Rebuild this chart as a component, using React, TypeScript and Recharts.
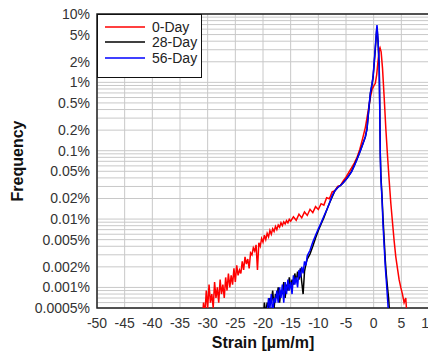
import React from 'react'
import { LineChart, Line, XAxis, YAxis, CartesianGrid, ReferenceArea } from 'recharts'

// strain [µm/m] and frequency [%]
const strain0 = [
  -31, -30.75, -30.5, -30.25, -30, -29.75, -29.5, -29.25, -29, -28.75, -28.5, -28.25, -28, -27.75, -27.5, -27.25,
  -27, -26.75, -26.5, -26.25, -26, -25.75, -25.5, -25.25, -25, -24.75, -24.5, -24.25, -24, -23.75, -23.5, -23.25,
  -23, -22.75, -22.5, -22.25, -22, -21.75, -21.5, -21.25, -21, -20.75, -20.5, -20.25, -20, -19.75, -19.5, -19.25,
  -19, -18.75, -18.5, -18.25, -18, -17.75, -17.5, -17.25, -17, -16.75, -16.5, -16.25, -16, -15.75, -15.5, -15.25,
  -15, -14.5, -14, -13.5, -13, -12.5, -12, -11.5, -11, -10.5, -10, -9.5, -9, -8.5, -8, -7.5, -7, -6.5, -6, -5.5,
  -5, -4.5, -4, -3.5, -3, -2.5, -2, -1.5, -1, -0.6, -0.3, 0, 0.3, 0.55, 0.8, 1.0, 1.15, 1.35, 1.6, 1.9, 2.2, 2.5,
  2.8, 3.1, 3.4, 3.7, 4.0, 4.3, 4.6, 4.9, 5.2, 5.5, 5.8, 6.1,
]
const freq0 = [
  0.0003, 0.0006, 0.0004, 0.0009, 0.0005, 0.0011, 0.0006, 0.0008, 0.0005, 0.0012, 0.0007, 0.001, 0.0006, 0.0013, 0.0008, 0.0011,
  0.0007, 0.0014, 0.0009, 0.0016, 0.001, 0.0015, 0.0011, 0.0019, 0.0012, 0.0021, 0.0015, 0.0018, 0.0016, 0.0024, 0.0018, 0.0028,
  0.0022, 0.0026, 0.0019, 0.0032, 0.003, 0.0038, 0.0034, 0.0042, 0.0018, 0.0045, 0.004, 0.0052, 0.0046, 0.0058, 0.005, 0.0062,
  0.0055, 0.0068, 0.006, 0.0072, 0.0066, 0.0078, 0.007, 0.0082, 0.0076, 0.0088, 0.008, 0.0091, 0.0085, 0.0095, 0.0088, 0.0099,
  0.0093, 0.0108, 0.0096, 0.0118, 0.0104, 0.0127, 0.0113, 0.0139, 0.0124, 0.0152, 0.0138, 0.0168, 0.016, 0.0205, 0.0198, 0.025, 0.026, 0.03, 0.031, 0.036,
  0.041, 0.048, 0.056, 0.066, 0.08, 0.105, 0.15, 0.22, 0.38, 0.6, 0.78, 0.88, 0.97, 1.3, 2.1, 3.0, 3.2, 2.8, 1.6, 0.6, 0.21, 0.085,
  0.037, 0.017, 0.009, 0.0048, 0.0028, 0.0019, 0.0013, 0.001, 0.0008, 0.0006, 0.0007, 0.0003,
]

const strain28 = [
  -20, -19.75, -19.5, -19.25, -19, -18.75, -18.5, -18.25, -18, -17.75, -17.5, -17.25, -17, -16.75, -16.5, -16.25,
  -16, -15.75, -15.5, -15.25, -15, -14.75, -14.5, -14.25, -14, -13.75, -13.5, -13.25, -13, -12.75, -12.5, -12.25,
  -12, -11.5, -11, -10.5, -10, -9.5, -9, -8.5, -8, -7.5, -7, -6.5, -6, -5.5, -5, -4.5, -4, -3.5, -3, -2.5, -2,
  -1.5, -1.2, -0.9, -0.6, -0.3, -0.1, 0.1, 0.3, 0.5, 0.6, 0.8, 1.0, 1.1, 1.2, 1.3, 1.5, 1.7, 1.9, 2.1, 2.3, 2.5, 2.7, 2.9,
]
const freq28 = [
  0.0003, 0.0006, 0.0004, 0.0006, 0.0005, 0.0007, 0.0006, 0.0009, 0.0005, 0.0008, 0.0007, 0.001, 0.0006, 0.0009, 0.0008, 0.0012,
  0.0007, 0.0011, 0.0009, 0.0014, 0.001, 0.0013, 0.0011, 0.0016, 0.0012, 0.0017, 0.0013, 0.0019, 0.0012, 0.0008, 0.0017, 0.0022,
  0.0026, 0.0031, 0.004, 0.0053, 0.0068, 0.0085, 0.0105, 0.0135, 0.017, 0.021, 0.026, 0.029, 0.031, 0.034, 0.038, 0.043, 0.05, 0.061, 0.076, 0.096, 0.123,
  0.16, 0.21, 0.38, 0.68, 0.93, 1.2, 1.9, 3.1, 5.2, 6.5, 3.9, 1.7, 0.45, 0.09, 0.045, 0.022, 0.01, 0.005, 0.0025, 0.0015, 0.001, 0.0007, 0.0004,
]

const strain56 = [
  -19.75, -19.5, -19.25, -19, -18.75, -18.5, -18.25, -18, -17.75, -17.5, -17.25, -17, -16.75, -16.5, -16.25, -16,
  -15.75, -15.5, -15.25, -15, -14.75, -14.5, -14.25, -14, -13.75, -13.5, -13.25, -13, -12.75, -12.5, -12.25, -12,
  -11.5, -11, -10.5, -10, -9.5, -9, -8.5, -8, -7.5, -7, -6.5, -6, -5.5, -5, -4.5, -4, -3.5, -3, -2.5, -2,
  -1.5, -1.2, -0.9, -0.6, -0.3, -0.1, 0.1, 0.3, 0.5, 0.6, 0.8, 1.0, 1.1, 1.2, 1.3, 1.5, 1.7, 1.9, 2.1, 2.3, 2.5, 2.7,
]
const freq56 = [
  0.0003, 0.0005, 0.0004, 0.0007, 0.0005, 0.0008, 0.0004, 0.0007, 0.0006, 0.0009, 0.0006, 0.001, 0.0007, 0.0011, 0.0006, 0.0012,
  0.0008, 0.0013, 0.0009, 0.0012, 0.0008, 0.0015, 0.0011, 0.0014, 0.001, 0.0018, 0.0014, 0.002, 0.0016, 0.0024, 0.0021, 0.0029,
  0.0035, 0.0046, 0.0058, 0.0072, 0.0088, 0.011, 0.0135, 0.017, 0.022, 0.026, 0.029, 0.031, 0.034, 0.038, 0.043, 0.049, 0.06, 0.075, 0.095, 0.122,
  0.16, 0.21, 0.4, 0.7, 0.95, 1.25, 2, 3.3, 5.6, 6.9, 4, 1.7, 0.4, 0.08, 0.04, 0.02, 0.008, 0.004, 0.002, 0.0012, 0.0007, 0.0004,
]

const seriesNames = ['0-Day', '28-Day', '56-Day']
const seriesColors = ['#ff0000', '#000000', '#0000ff']

const xTicks = [-50, -45, -40, -35, -30, -25, -20, -15, -10, -5, 0, 5, 10]
const yDecades = [0.001, 0.01, 0.1, 1]
const yTicks = [
  0.0005, 0.0006, 0.0007, 0.0008, 0.0009,
  ...yDecades.flatMap((d) => [1, 2, 3, 4, 5, 6, 7, 8, 9].map((m) => Number((d * m).toPrecision(2)))),
  10,
]
const yLabelled = [0.0005, 0.001, 0.002, 0.005, 0.01, 0.02, 0.05, 0.1, 0.2, 0.5, 1, 2, 5, 10]

const zip = (xs: number[], ys: number[]) => xs.map((s, i) => ({ s, f: ys[i] }))
const seriesData = [zip(strain0, freq0), zip(strain28, freq28), zip(strain56, freq56)]

const FONT = '"Liberation Sans", Arial, sans-serif'

const YTick = (props: any) => {
  const { x, y, payload } = props
  if (!yLabelled.includes(payload.value)) return null
  return (
    <text x={x} y={y} textAnchor="end" dominantBaseline="central" fontSize={14} fontFamily={FONT} fill="#333">
      {payload.value}%
    </text>
  )
}

const App = () => {
  return (
    <div style={{ position: 'relative', width: 428, height: 350, marginTop: -6 }}>
      <LineChart width={428} height={350} margin={{ top: 12, right: 7, left: 0, bottom: 0 }}>
        <CartesianGrid stroke="#c8c8c8" strokeWidth={1} />
        <XAxis
          dataKey="s"
          type="number"
          domain={[-50, 10]}
          ticks={xTicks}
          height={44}
          tickLine={false}
          axisLine={false}
          tickSize={6}
          tickMargin={4}
          tick={{ fontSize: 14, fontFamily: FONT, fill: '#333' }}
          allowDuplicatedCategory={false}
          label={{
            content: (p: any) => {
              const { viewBox } = p
              return (
                <text
                  x={viewBox.x + viewBox.width / 2}
                  y={viewBox.y + viewBox.height - 4}
                  textAnchor="middle"
                  fontSize={16}
                  fontWeight="bold"
                  fontFamily={FONT}
                  fill="#111"
                >
                  Strain [µm/m]
                </text>
              )
            },
          }}
        />
        <YAxis
          type="number"
          scale="log"
          domain={[0.0005, 10]}
          allowDataOverflow
          ticks={yTicks}
          interval={0}
          width={89}
          tickLine={false}
          axisLine={false}
          tickSize={5}
          tickMargin={2}
          tick={<YTick />}
          label={{
            content: (p: any) => {
              const { viewBox } = p
              const cx = viewBox.x + 9
              const cy = viewBox.y + viewBox.height / 2
              return (
                <text
                  x={cx}
                  y={cy}
                  transform={`rotate(-90 ${cx} ${cy})`}
                  textAnchor="middle"
                  dominantBaseline="central"
                  fontSize={16}
                  fontWeight="bold"
                  fontFamily={FONT}
                  fill="#111"
                >
                  Frequency
                </text>
              )
            },
          }}
        />
        {seriesData.map((d, i) => (
          <Line
            key={seriesNames[i]}
            data={d}
            dataKey="f"
            name={seriesNames[i]}
            stroke={seriesColors[i]}
            strokeWidth={1.5}
            dot={false}
            isAnimationActive={false}
          />
        ))}
        <ReferenceArea x1={-50} x2={10} y1={0.0005} y2={10} fill="none" stroke="#222" strokeWidth={1.5} />
      </LineChart>
      <div
        style={{
          position: 'absolute',
          left: 89,
          top: 12,
          width: 105,
          height: 64,
          background: '#fff',
          border: '1.5px solid #111',
          fontFamily: FONT,
          fontSize: 14,
          color: '#222',
          boxSizing: 'border-box',
          paddingTop: 4,
        }}
      >
        {seriesNames.map((n, i) => (
          <div key={n} style={{ display: 'flex', alignItems: 'center', height: 15.5 }}>
            <svg width={54} height={10}>
              <line x1={7} x2={47} y1={5} y2={5} stroke={seriesColors[i]} strokeWidth={1.5} />
            </svg>
            <span>{n}</span>
          </div>
        ))}
      </div>
    </div>
  )
}

export default App
